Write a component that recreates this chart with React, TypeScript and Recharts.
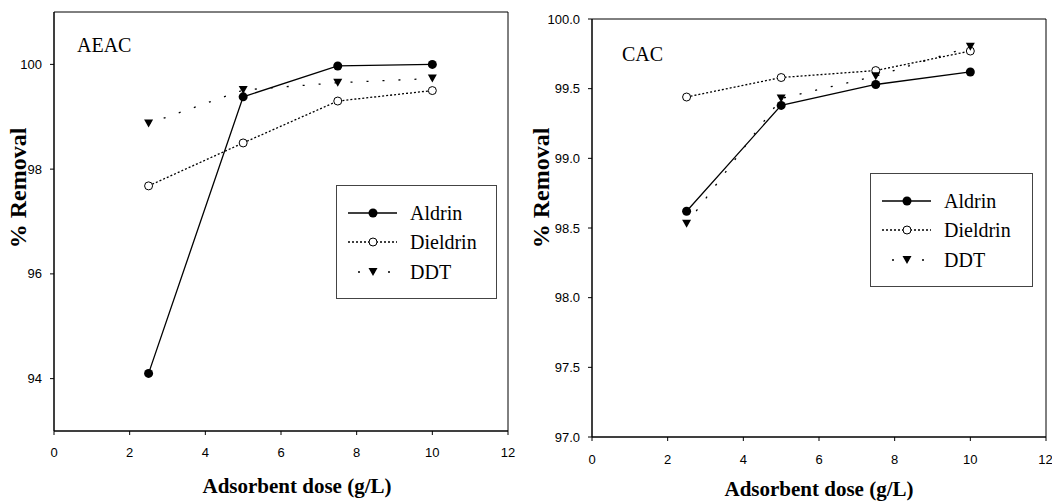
import React from 'react';
import { LineChart, Line, XAxis, YAxis, ReferenceArea, Legend } from 'recharts';

// Adsorbent dose (g/L)
const doses = [2.5, 5, 7.5, 10];
const xTicks = [0, 2, 4, 6, 8, 10, 12];

// AEAC panel, % removal
const aldrinAEAC = [94.1, 99.38, 99.97, 100.0];
const dieldrinAEAC = [97.68, 98.5, 99.3, 99.5];
const ddtAEAC = [98.87, 99.51, 99.65, 99.73];
const aeacTicks = [94, 96, 98, 100];

// CAC panel, % removal
const aldrinCAC = [98.62, 99.38, 99.53, 99.62];
const dieldrinCAC = [99.44, 99.58, 99.63, 99.77];
const ddtCAC = [98.53, 99.43, 99.59, 99.8];
const cacTicks = [97.0, 97.5, 98.0, 98.5, 99.0, 99.5, 100.0];

const SERIF = '"Liberation Serif", "Times New Roman", serif';
const SANS = '"Liberation Sans", Arial, sans-serif';

type MarkerKind = 'filled' | 'open' | 'triangle';

const SERIES: { key: string; label: string; dash?: string; marker: MarkerKind }[] = [
  { key: 'aldrin', label: 'Aldrin', marker: 'filled' },
  { key: 'dieldrin', label: 'Dieldrin', dash: '2 2', marker: 'open' },
  { key: 'ddt', label: 'DDT', dash: '2 14', marker: 'triangle' },
];

const Marker = ({ cx, cy, kind }: { cx: number; cy: number; kind: MarkerKind }) => {
  if (kind === 'filled') return <circle cx={cx} cy={cy} r={4.5} fill="#000" />;
  if (kind === 'open')
    return <circle cx={cx} cy={cy} r={4} fill="#fff" stroke="#000" strokeWidth={1} />;
  return (
    <path
      d={`M${cx - 4.5},${cy - 4} L${cx + 4.5},${cy - 4} L${cx},${cy + 4} Z`}
      fill="#000"
    />
  );
};

// legend rows (relative to the legend box)
const ROW_Y = [28, 57, 87];

const LegendBox = ({ width, height }: { width: number; height: number }) => (
  <div
    style={{
      width,
      height,
      border: '1px solid #444',
      boxSizing: 'border-box',
      position: 'relative',
      background: '#fff',
      fontFamily: SERIF,
    }}
  >
    <svg width={width} height={height} style={{ position: 'absolute', left: -1, top: -1 }}>
      {SERIES.map((s, i) => {
        const y = ROW_Y[i];
        const isDdt = s.key === 'ddt';
        return (
          <g key={s.key}>
            <line
              x1={isDdt ? 22 : 12}
              x2={isDdt ? 54 : 61}
              y1={y}
              y2={y}
              stroke="#000"
              strokeWidth={1.3}
              strokeDasharray={isDdt ? '2 13' : s.dash}
            />
            <Marker cx={37} cy={y} kind={s.marker} />
            <text
              x={74}
              y={y + 7}
              fontFamily={SERIF}
              style={{ fontFamily: SERIF, fontSize: 20 }}
              fill="#000"
            >
              {s.label}
            </text>
          </g>
        );
      })}
    </svg>
  </div>
);

interface PanelProps {
  name: string;
  left: number;
  width: number;
  margin: { top: number; right: number; left: number; bottom: number };
  yAxisWidth: number;
  xAxisHeight: number;
  domain: [number, number];
  yTicks: number[];
  yFormat: (v: number) => string;
  aldrin: number[];
  dieldrin: number[];
  ddt: number[];
  nameOffset: { dx: number; dy: number };
  yTitlePos: { x: number; y: number };
  xTitlePos: { x: number; y: number };
  xTickMargin: number;
  legendPos: { left: number; top: number; width: number; height: number };
}

const Panel = (p: PanelProps) => {
  const data = doses.map((d, i) => ({
    dose: d,
    aldrin: p.aldrin[i],
    dieldrin: p.dieldrin[i],
    ddt: p.ddt[i],
  }));

  return (
    <div style={{ position: 'absolute', left: p.left, top: 0 }}>
      <LineChart width={p.width} height={503} data={data} margin={p.margin}>
        <XAxis
          dataKey="dose"
          type="number"
          domain={[0, 12]}
          ticks={xTicks}
          height={p.xAxisHeight}
          tickSize={4}
          tickMargin={p.xTickMargin}
          tick={{ fill: '#000', fontSize: 13, fontFamily: SANS }}
          axisLine={{ stroke: '#000' }}
          tickLine={{ stroke: '#000' }}
          label={{
            content: () => (
              <text
                x={p.xTitlePos.x}
                y={p.xTitlePos.y}
                textAnchor="middle"
                style={{ fontFamily: SERIF, fontWeight: 'bold', fontSize: 21 }}
                fill="#000"
              >
                Adsorbent dose (g/L)
              </text>
            ),
          }}
        />
        <YAxis
          type="number"
          domain={p.domain}
          ticks={p.yTicks}
          width={p.yAxisWidth}
          tickSize={4}
          tickMargin={8}
          tickFormatter={p.yFormat}
          tick={{ fill: '#000', fontSize: 13, fontFamily: SANS }}
          axisLine={{ stroke: '#000' }}
          tickLine={{ stroke: '#000' }}
          label={{
            content: () => (
              <text
                x={p.yTitlePos.x}
                y={p.yTitlePos.y}
                transform={`rotate(-90 ${p.yTitlePos.x} ${p.yTitlePos.y})`}
                textAnchor="middle"
                style={{ fontFamily: SERIF, fontWeight: 'bold', fontSize: 24 }}
                fill="#000"
              >
                % Removal
              </text>
            ),
          }}
        />
        <ReferenceArea
          x1={0}
          x2={12}
          y1={p.domain[0]}
          y2={p.domain[1]}
          fill="none"
          stroke="#000"
          strokeWidth={1}
          label={{
            content: (lp: any) => {
              const vb = lp.viewBox || { x: 0, y: 0 };
              return (
                <text
                  x={vb.x + p.nameOffset.dx}
                  y={vb.y + p.nameOffset.dy}
                  style={{ fontFamily: SERIF, fontSize: 20 }}
                  fill="#000"
                >
                  {p.name}
                </text>
              );
            },
          }}
        />
        {SERIES.map((s) => (
          <Line
            key={s.key}
            type="linear"
            dataKey={s.key}
            name={s.label}
            stroke="#000"
            strokeWidth={1.3}
            strokeDasharray={s.dash}
            isAnimationActive={false}
            dot={(dp: any) => (
              <Marker key={`${s.key}-${dp.index}`} cx={dp.cx} cy={dp.cy} kind={s.marker} />
            )}
            activeDot={false}
          />
        ))}
        <Legend
          layout="horizontal"
          verticalAlign="middle"
          align="center"
          wrapperStyle={{
            position: 'absolute',
            left: p.legendPos.left,
            top: p.legendPos.top,
            width: p.legendPos.width,
            height: p.legendPos.height,
          }}
          content={() => <LegendBox width={p.legendPos.width} height={p.legendPos.height} />}
        />
      </LineChart>
    </div>
  );
};

export default function App() {
  return (
    <div
      style={{
        position: 'absolute',
        left: 0,
        top: 0,
        width: 1052,
        height: 503,
        background: '#fff',
        overflow: 'hidden',
      }}
    >
      <Panel
        name="AEAC"
        left={0}
        width={525}
        margin={{ top: 12, right: 17, left: 0, bottom: 0 }}
        yAxisWidth={54}
        xAxisHeight={72}
        domain={[93, 101]}
        yTicks={aeacTicks}
        yFormat={(v) => `${v}`}
        aldrin={aldrinAEAC}
        dieldrin={dieldrinAEAC}
        ddt={ddtAEAC}
        nameOffset={{ dx: 23, dy: 40 }}
        yTitlePos={{ x: 26, y: 188 }}
        xTitlePos={{ x: 297, y: 493 }}
        xTickMargin={13}
        legendPos={{ left: 336, top: 185, width: 161, height: 114 }}
      />
      <Panel
        name="CAC"
        left={525}
        width={527}
        margin={{ top: 19, right: 6, left: 0, bottom: 0 }}
        yAxisWidth={67}
        xAxisHeight={66}
        domain={[97, 100]}
        yTicks={cacTicks}
        yFormat={(v) => v.toFixed(1)}
        aldrin={aldrinCAC}
        dieldrin={dieldrinCAC}
        ddt={ddtCAC}
        nameOffset={{ dx: 30, dy: 42 }}
        yTitlePos={{ x: 24, y: 188 }}
        xTitlePos={{ x: 294, y: 496 }}
        xTickMargin={14}
        legendPos={{ left: 345, top: 173, width: 163, height: 114 }}
      />
    </div>
  );
}
